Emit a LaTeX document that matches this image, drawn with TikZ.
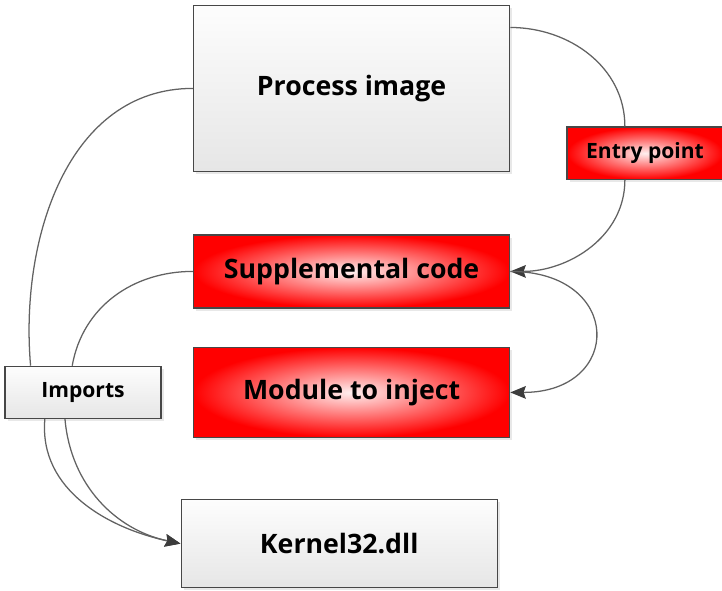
\documentclass[tikz,border=0pt]{standalone}
\usepackage{fontspec}
\setmainfont{Open Sans}
\usetikzlibrary{arrows.meta,positioning,shadows}

\definecolor{linegray}{HTML}{626262}
\definecolor{edgegray}{HTML}{474747}
\definecolor{tipgray}{HTML}{3C3C3C}
\definecolor{boxtop}{HTML}{FDFDFD}
\definecolor{boxbottom}{HTML}{E6E6E6}

\begin{document}
\begin{tikzpicture}[-{Stealth[length=11pt,width=9pt,inset=1.5pt,color=tipgray]},line width=0.9pt,draw=linegray,node distance=1.55cm]

        \tikzstyle{every node}=[draw=edgegray,line width=1pt,font=\fontsize{19}{22}\selectfont\bfseries,
                                drop shadow={opacity=0.18,shadow xshift=2pt,shadow yshift=-2pt}]
        \tikzstyle{plainbox}=[top color=boxtop,bottom color=boxbottom,minimum width=7.9cm]
        \tikzstyle{redbox}=[shading=radial,inner color=red!6,outer color=red,minimum width=7.9cm]
        \tikzstyle{small}=[minimum width=3.9cm,minimum height=1.3cm,font=\fontsize{15}{18}\selectfont\bfseries]

        \useasboundingbox (0,0) rectangle (18.05,-14.75);

        \node[plainbox, minimum height=4.15cm] (proc) at (8.79,-2.21) {Process image};

        \node[redbox, minimum height=1.83cm]   (supp)  [below=1.55cm of proc]           {Supplemental code};
        \node[redbox, minimum height=2.25cm]   (mod)   [below=0.95cm of supp]           {Module to inject};
        \node[plainbox, minimum height=2.2cm]  (kern)  [below=1.52cm of mod, xshift=-0.31cm] {Kernel32.dll};

        \node[plainbox, small] (imp)   [left=0.78cm of mod]                 {Imports};
        \node[redbox, small]   (entry) [right=1.4cm of proc, yshift=-1.62cm] {Entry point};

        % entry point into the supplemental code
        \draw[-] (proc.21)   to[out=0,in=90]    (entry.127);
        \draw    (entry.233) to[out=-90,in=0]   (supp.east);
        \draw    (supp.east) to[out=0,in=0,looseness=2.4] (mod.east);

        % imports
        \draw[-] (proc.west) to[out=180,in=95]  (imp.153);
        \draw    (imp.-145)  to[out=-95,in=168] (kern.west);
        \draw[-] (supp.west) to[out=180,in=80]  (imp.112);
        \draw    (imp.-124)  to[out=-85,in=168] (kern.west);
\end{tikzpicture}
\end{document}
